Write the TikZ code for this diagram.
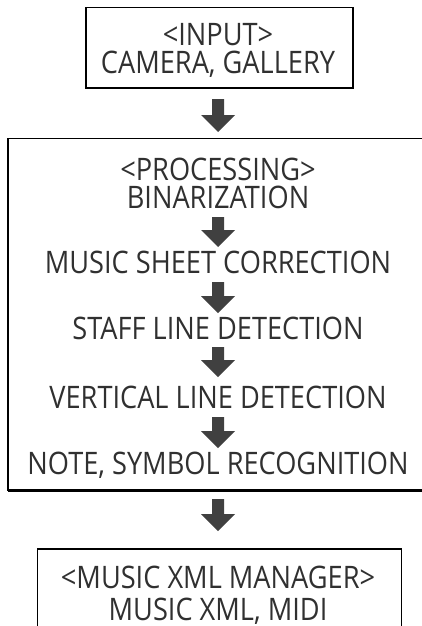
\documentclass[tikz,border=0pt]{standalone}
\usepackage{fontspec}
\setmainfont{Open Sans}[FakeStretch=0.877]
\definecolor{arrowgray}{HTML}{404040}
\definecolor{textgray}{HTML}{303030}
\tikzset{
  lbl/.style={anchor=base, inner sep=0, text=textgray, font=\fontsize{31}{36}\selectfont},
  boxline/.style={draw=black, line width=1.3pt},
  shadeline/.style={draw=black, line width=2.6pt},
  arrowfill/.style={fill=arrowgray},
}
% block arrow: #1 name, #2 top y, #3 total length
\newcommand\blockarr[3]{%
  \coordinate (#1) at (218,#2);
  \fill[arrowfill] (#1) ++(-6,0) -- ++(12,0) -- ++(0,#3-17) -- ++(11,0)
     -- ++(-17,17) -- ++(-17,-17) -- ++(11,0) -- cycle;}
\begin{document}
\begin{tikzpicture}[x=1pt,y=-1pt]
\useasboundingbox (0,0) rectangle (421,626);
% boxes
\coordinate (inNW) at (86,7.5);
\coordinate (inSE) at (353,88);
\draw[boxline] (inNW) rectangle (inSE);
\draw[shadeline] (inNW |- inSE) -- (inSE) -- (inSE |- inNW);
\coordinate (prNW) at (8,138.5);
\coordinate (prSE) at (430,490.5);
\draw[boxline] (prNW) rectangle (prSE);
\draw[shadeline] (prNW |- prSE) -- (prSE);
\coordinate (ouNW) at (37.5,549);
\coordinate (ouSE) at (401.5,640);
\draw[boxline] (ouNW) rectangle (ouSE);
% texts
\node[lbl] (t1) at (218,46) {<INPUT>};
\node[lbl] (t2) at (218,74) {CAMERA, GALLERY};
\node[lbl] (p0) at (218,180) {<PROCESSING>};
\node[lbl] (p1) at (218,208) {BINARIZATION};
\node[lbl] (p2) at (218,273) {MUSIC SHEET CORRECTION};
\node[lbl] (p3) at (218,339) {STAFF LINE DETECTION};
\node[lbl] (p4) at (218,408) {VERTICAL LINE DETECTION};
\node[lbl] (p5) at (218,474) {NOTE, SYMBOL RECOGNITION};
\node[lbl] (o1) at (218,588) {<MUSIC XML MANAGER>};
\node[lbl] (o2) at (218,620) {MUSIC XML, MIDI};
% arrows
\blockarr{a1}{99}{33}
\blockarr{a2}{217}{30}
\blockarr{a3}{282}{31}
\blockarr{a4}{347}{30}
\blockarr{a5}{417}{31}
\blockarr{a6}{499}{32}
\end{tikzpicture}
\end{document}
